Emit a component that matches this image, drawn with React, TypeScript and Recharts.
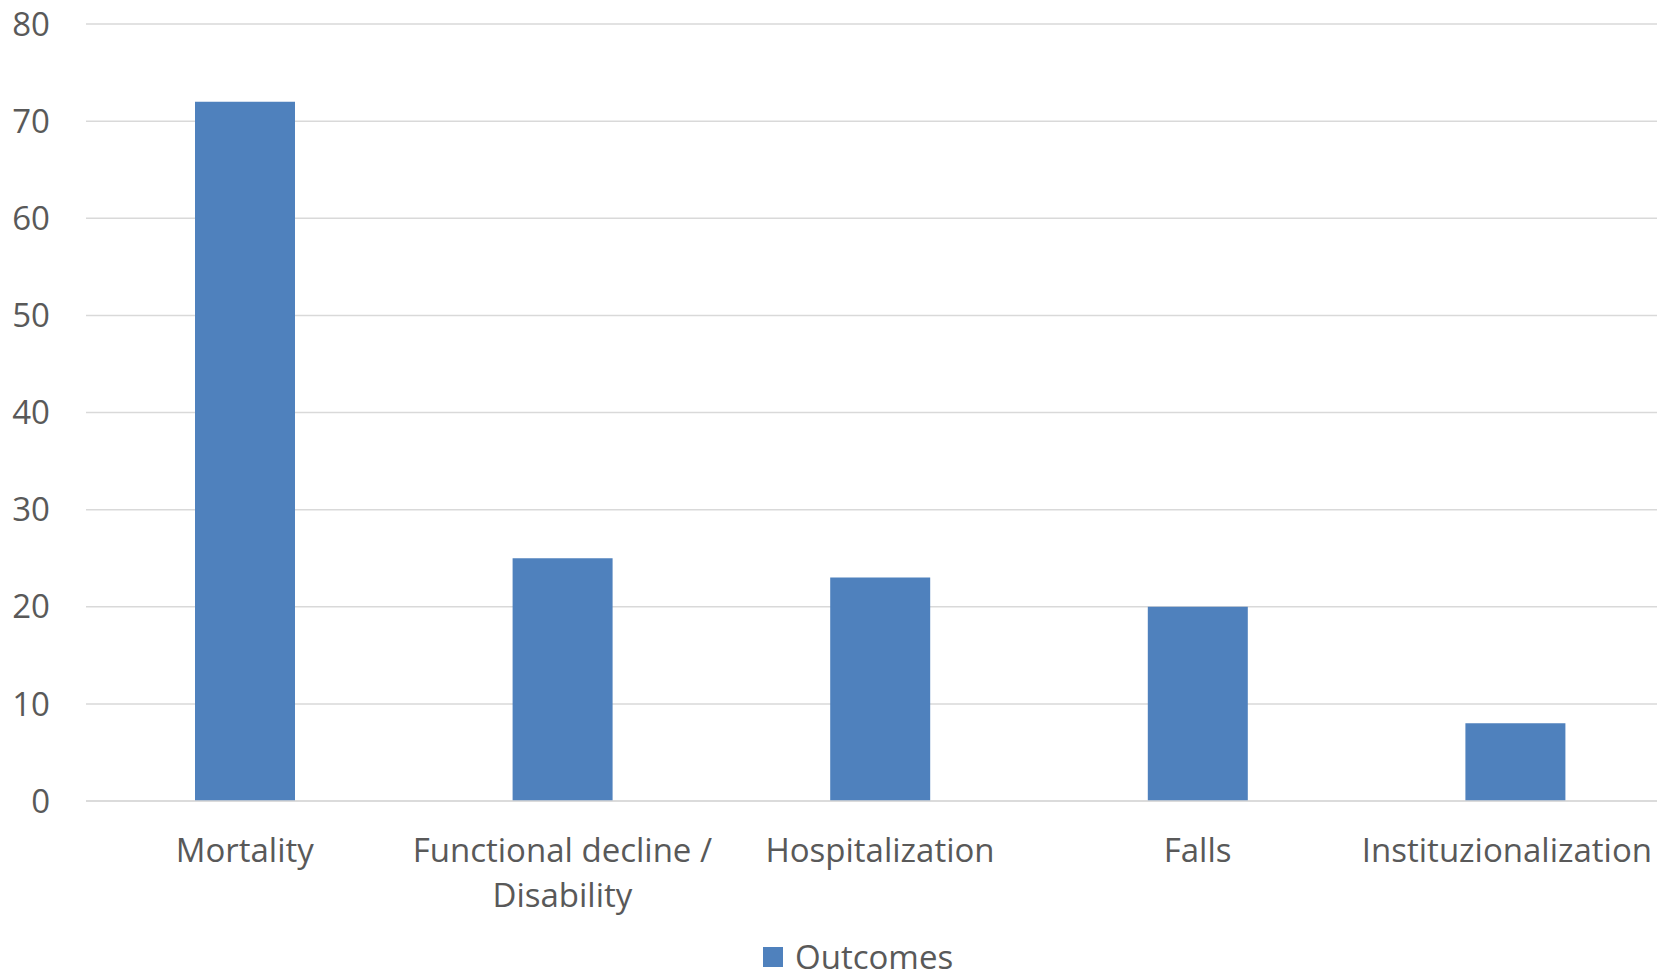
import React from 'react';
import { BarChart, Bar, XAxis, YAxis, CartesianGrid, Legend } from 'recharts';

const categories = ['Mortality', 'Functional decline /\nDisability', 'Hospitalization', 'Falls', 'Instituzionalization'];
const outcomes = [72, 25, 23, 20, 8];
const yTicks = [0, 10, 20, 30, 40, 50, 60, 70, 80];
const seriesName = 'Outcomes';

const data = categories.map((c, i) => ({ name: c, Outcomes: outcomes[i] }));

const FONT = '"Open Sans", sans-serif';
const TEXT = '#595959';
const BLUE = '#4F81BD';
const GRID = '#D9D9D9';
const FS = 33;
const VISIBLE_RIGHT = 1652;

const XTick = (props: any) => {
  const { x, y, payload, index } = props;
  const lines = String(payload.value).split('\n');
  const isLast = index === categories.length - 1;
  const tx = isLast ? VISIBLE_RIGHT : x;
  const anchor = isLast ? 'end' : 'middle';
  return (
    <g>
      <text x={tx} y={y + 61} textAnchor={anchor} fill={TEXT} fontSize={FS} fontFamily={FONT}>
        {lines.map((l, i) => (
          <tspan key={i} x={tx} dy={i === 0 ? 0 : 45}>{l}</tspan>
        ))}
      </text>
    </g>
  );
};

const LegendContent = () => (
  <div style={{ display: 'flex', alignItems: 'center', height: 30, lineHeight: '30px', fontFamily: FONT, fontSize: FS, color: TEXT, whiteSpace: 'nowrap' }}>
    <span style={{ display: 'inline-block', width: 20, height: 20, background: BLUE, marginRight: 12 }} />
    <span style={{ lineHeight: '30px' }}>{seriesName}</span>
  </div>
);

export default function App() {
  return (
    <div style={{ position: 'absolute', left: 0, top: 0, width: 1657, height: 979, background: '#fff', overflow: 'hidden' }}>
      <BarChart width={1674} height={979} data={data} margin={{ top: 24, right: 0, left: 0, bottom: 0 }}>
        <CartesianGrid vertical={false} stroke={GRID} strokeWidth={1.5} />
        <XAxis
          dataKey="name"
          interval={0}
          height={148}
          tickSize={0}
          tickMargin={0}
          axisLine={{ stroke: GRID, strokeWidth: 1.5 }}
          tickLine={false}
          tick={<XTick />}
        />
        <YAxis
          domain={[0, 80]}
          ticks={yTicks}
          width={86}
          tickSize={0}
          tickMargin={36}
          axisLine={false}
          tickLine={false}
          tick={{ fill: TEXT, fontSize: FS, fontFamily: FONT }}
        />
        <Legend
          verticalAlign="bottom"
          content={<LegendContent />}
          wrapperStyle={{ top: 942, left: 763, width: 'auto', height: 30 }}
        />
        <Bar dataKey="Outcomes" name={seriesName} fill={BLUE} barSize={100} isAnimationActive={false} />
      </BarChart>
    </div>
  );
}
